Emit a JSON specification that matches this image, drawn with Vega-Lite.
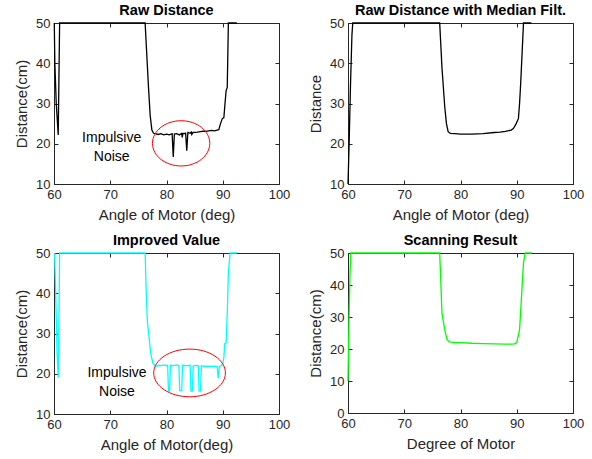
{
  "$schema": "https://vega.github.io/schema/vega-lite/v6.json",
  "padding": {"left": 14, "top": 2, "right": 5, "bottom": 5},
  "datasets": {
    "raw": [
      {"angle": 60.05, "dist": 50}, {"angle": 60.15, "dist": 40}, {"angle": 60.4, "dist": 30}, {"angle": 60.75, "dist": 22.2}, {"angle": 61.0, "dist": 50},
      {"angle": 76.2, "dist": 50}, {"angle": 76.5, "dist": 42}, {"angle": 76.8, "dist": 34}, {"angle": 77.1, "dist": 27}, {"angle": 77.4, "dist": 23.4},
      {"angle": 77.7, "dist": 22.6}, {"angle": 78.0, "dist": 22.5}, {"angle": 78.5, "dist": 22.3}, {"angle": 79.0, "dist": 22.5}, {"angle": 79.5, "dist": 22.2},
      {"angle": 80.0, "dist": 22.4}, {"angle": 80.5, "dist": 22.2}, {"angle": 81.0, "dist": 22.5}, {"angle": 81.2, "dist": 16.7}, {"angle": 81.4, "dist": 22.4},
      {"angle": 81.8, "dist": 22.5}, {"angle": 82.3, "dist": 22.2}, {"angle": 82.7, "dist": 22.6}, {"angle": 82.8, "dist": 21.6}, {"angle": 82.9, "dist": 22.5},
      {"angle": 83.4, "dist": 22.6}, {"angle": 83.6, "dist": 18.3}, {"angle": 83.8, "dist": 22.8}, {"angle": 84.2, "dist": 22.6}, {"angle": 84.4, "dist": 22.9},
      {"angle": 84.5, "dist": 22.3}, {"angle": 84.7, "dist": 22.8}, {"angle": 85.5, "dist": 22.9}, {"angle": 86.0, "dist": 23.0}, {"angle": 86.5, "dist": 23.1},
      {"angle": 87.0, "dist": 23.1}, {"angle": 87.5, "dist": 23.2}, {"angle": 88.0, "dist": 23.3}, {"angle": 88.5, "dist": 23.2}, {"angle": 89.0, "dist": 23.4},
      {"angle": 89.3, "dist": 23.5}, {"angle": 89.6, "dist": 25.0}, {"angle": 89.9, "dist": 26.2}, {"angle": 90.2, "dist": 26.5}, {"angle": 90.4, "dist": 30},
      {"angle": 90.6, "dist": 33.2}, {"angle": 90.8, "dist": 34}, {"angle": 90.9, "dist": 42}, {"angle": 91.0, "dist": 50}, {"angle": 92.5, "dist": 50}
    ],
    "median": [
      {"angle": 60.0, "dist": 10}, {"angle": 60.2, "dist": 20}, {"angle": 60.45, "dist": 35}, {"angle": 60.7, "dist": 47}, {"angle": 60.85, "dist": 50},
      {"angle": 76.3, "dist": 50}, {"angle": 76.7, "dist": 39}, {"angle": 77.2, "dist": 29.2}, {"angle": 77.5, "dist": 25}, {"angle": 77.8, "dist": 23.0},
      {"angle": 78.2, "dist": 22.6}, {"angle": 79, "dist": 22.5}, {"angle": 80, "dist": 22.4}, {"angle": 82, "dist": 22.4}, {"angle": 84, "dist": 22.5},
      {"angle": 86, "dist": 22.8}, {"angle": 87, "dist": 22.9}, {"angle": 88, "dist": 23.1}, {"angle": 89, "dist": 23.4}, {"angle": 89.4, "dist": 23.8},
      {"angle": 89.9, "dist": 25}, {"angle": 90.3, "dist": 26.3}, {"angle": 90.5, "dist": 30}, {"angle": 90.7, "dist": 35}, {"angle": 91.0, "dist": 44},
      {"angle": 91.2, "dist": 50}, {"angle": 92.6, "dist": 50}
    ],
    "improved": [
      {"angle": 60.1, "dist": 50}, {"angle": 60.3, "dist": 40}, {"angle": 60.55, "dist": 25}, {"angle": 60.75, "dist": 19}, {"angle": 60.85, "dist": 30},
      {"angle": 61.0, "dist": 50}, {"angle": 76.2, "dist": 50}, {"angle": 76.4, "dist": 40}, {"angle": 76.6, "dist": 33}, {"angle": 76.9, "dist": 29},
      {"angle": 77.2, "dist": 25}, {"angle": 77.6, "dist": 22.5}, {"angle": 78.0, "dist": 22.0}, {"angle": 78.3, "dist": 21.8}, {"angle": 78.6, "dist": 22.1},
      {"angle": 79.0, "dist": 22.0}, {"angle": 79.5, "dist": 22.2}, {"angle": 80.0, "dist": 22.0}, {"angle": 80.2, "dist": 22.1}, {"angle": 80.35, "dist": 15.7},
      {"angle": 80.55, "dist": 15.7}, {"angle": 80.7, "dist": 22.1}, {"angle": 81.2, "dist": 22.0}, {"angle": 81.8, "dist": 22.2}, {"angle": 82.2, "dist": 22.0},
      {"angle": 82.35, "dist": 15.8}, {"angle": 82.7, "dist": 15.8}, {"angle": 82.85, "dist": 22.1}, {"angle": 83.5, "dist": 22.0}, {"angle": 84.2, "dist": 22.1},
      {"angle": 84.35, "dist": 15.7}, {"angle": 84.6, "dist": 15.7}, {"angle": 84.75, "dist": 22.0}, {"angle": 85.3, "dist": 22.1}, {"angle": 85.65, "dist": 22.0},
      {"angle": 85.8, "dist": 15.7}, {"angle": 86.05, "dist": 15.7}, {"angle": 86.2, "dist": 22.0}, {"angle": 86.8, "dist": 21.8}, {"angle": 87.5, "dist": 21.9},
      {"angle": 88.0, "dist": 21.8}, {"angle": 88.5, "dist": 21.9}, {"angle": 89.0, "dist": 21.8}, {"angle": 89.2, "dist": 18.9}, {"angle": 89.4, "dist": 21.8},
      {"angle": 89.7, "dist": 22.0}, {"angle": 90.0, "dist": 22.5}, {"angle": 90.2, "dist": 24}, {"angle": 90.35, "dist": 27.5}, {"angle": 90.6, "dist": 27.7},
      {"angle": 90.8, "dist": 35}, {"angle": 91.0, "dist": 45}, {"angle": 91.3, "dist": 50}, {"angle": 92.5, "dist": 50}
    ],
    "scan": [
      {"angle": 60.0, "dist": 10}, {"angle": 60.2, "dist": 31}, {"angle": 60.35, "dist": 43}, {"angle": 60.5, "dist": 50}, {"angle": 76.3, "dist": 50},
      {"angle": 76.5, "dist": 41}, {"angle": 76.7, "dist": 31.2}, {"angle": 77.2, "dist": 26}, {"angle": 77.6, "dist": 23}, {"angle": 78.0, "dist": 22.2},
      {"angle": 79, "dist": 22.0}, {"angle": 80, "dist": 22.0}, {"angle": 82, "dist": 21.8}, {"angle": 84, "dist": 21.7}, {"angle": 86, "dist": 21.6},
      {"angle": 88, "dist": 21.5}, {"angle": 89, "dist": 21.5}, {"angle": 89.6, "dist": 21.6}, {"angle": 90.0, "dist": 22.0}, {"angle": 90.5, "dist": 26},
      {"angle": 90.8, "dist": 35}, {"angle": 91.2, "dist": 46.9}, {"angle": 91.5, "dist": 50}, {"angle": 92.7, "dist": 50}
    ],
    "ell1": [{"angle": 82.6, "dist": 20.1}],
    "ell3": [{"angle": 84.1, "dist": 20.2}],
    "txt1": [{"angle": 70.25, "dist": 20.5, "label": "Impulsive"}, {"angle": 70.25, "dist": 15.7, "label": "Noise"}],
    "txt3": [{"angle": 71.2, "dist": 19.3, "label": "Impulsive"}, {"angle": 71.2, "dist": 14.55, "label": "Noise"}]
  },
  "columns": 2,
  "spacing": 69,
  "bounds": "flush",
  "concat": [
    {
      "width": 225, "height": 161,
      "title": "Raw Distance",
      "layer": [
        {"data": {"name": "raw"}, "mark": {"type": "line", "color": "#000000", "strokeWidth": 1.3},
         "encoding": {
           "x": {"field": "angle", "type": "quantitative", "scale": {"domain": [60, 100], "nice": false}, "axis": {"values": [60, 70, 80, 90, 100], "title": "Angle of Motor (deg)"}},
           "y": {"field": "dist", "type": "quantitative", "scale": {"domain": [10, 50], "nice": false}, "axis": {"values": [10, 20, 30, 40, 50], "title": "Distance(cm)"}}}},
        {"data": {"name": "raw"}, "mark": {"type": "line", "opacity": 0},
         "encoding": {
           "x": {"field": "angle", "type": "quantitative", "scale": {"domain": [60, 100], "nice": false}, "axis": {"orient": "top", "values": [60, 70, 80, 90, 100], "labels": false, "domain": false, "title": null}},
           "y": {"field": "dist", "type": "quantitative", "scale": {"domain": [10, 50], "nice": false}, "axis": {"orient": "right", "values": [10, 20, 30, 40, 50], "labels": false, "domain": false, "title": null}}}},
        {"data": {"name": "ell1"}, "mark": {"type": "point", "shape": "M -1 0 A 1 0.79 0 1 1 1 0 A 1 0.79 0 1 1 -1 0 Z", "size": 3283, "filled": false, "stroke": "#ff0000", "strokeWidth": 1, "opacity": 1},
         "encoding": {"x": {"field": "angle", "type": "quantitative", "axis": null}, "y": {"field": "dist", "type": "quantitative", "axis": null}}},
        {"data": {"name": "txt1"}, "mark": {"type": "text", "fontSize": 14, "align": "center", "baseline": "alphabetic", "color": "#000000"},
         "encoding": {"x": {"field": "angle", "type": "quantitative", "axis": null}, "y": {"field": "dist", "type": "quantitative", "axis": null}, "text": {"field": "label"}}}
      ],
      "resolve": {"axis": {"x": "independent", "y": "independent"}}
    },
    {
      "width": 225, "height": 161,
      "title": "Raw Distance with Median Filt.",
      "layer": [
        {"data": {"name": "median"}, "mark": {"type": "line", "color": "#000000", "strokeWidth": 1.3},
         "encoding": {
           "x": {"field": "angle", "type": "quantitative", "scale": {"domain": [60, 100], "nice": false}, "axis": {"values": [60, 70, 80, 90, 100], "title": "Angle of Motor (deg)"}},
           "y": {"field": "dist", "type": "quantitative", "scale": {"domain": [10, 50], "nice": false}, "axis": {"values": [10, 20, 30, 40, 50], "title": "Distance"}}}},
        {"data": {"name": "median"}, "mark": {"type": "line", "opacity": 0},
         "encoding": {
           "x": {"field": "angle", "type": "quantitative", "scale": {"domain": [60, 100], "nice": false}, "axis": {"orient": "top", "values": [60, 70, 80, 90, 100], "labels": false, "domain": false, "title": null}},
           "y": {"field": "dist", "type": "quantitative", "scale": {"domain": [10, 50], "nice": false}, "axis": {"orient": "right", "values": [10, 20, 30, 40, 50], "labels": false, "domain": false, "title": null}}}}
      ],
      "resolve": {"axis": {"x": "independent", "y": "independent"}}
    },
    {
      "width": 225, "height": 161,
      "title": "Improved Value",
      "layer": [
        {"data": {"name": "improved"}, "mark": {"type": "line", "color": "#00ffff", "strokeWidth": 1.3},
         "encoding": {
           "x": {"field": "angle", "type": "quantitative", "scale": {"domain": [60, 100], "nice": false}, "axis": {"values": [60, 70, 80, 90, 100], "title": "Angle of Motor(deg)"}},
           "y": {"field": "dist", "type": "quantitative", "scale": {"domain": [10, 50], "nice": false}, "axis": {"values": [10, 20, 30, 40, 50], "title": "Distance(cm)"}}}},
        {"data": {"name": "improved"}, "mark": {"type": "line", "opacity": 0},
         "encoding": {
           "x": {"field": "angle", "type": "quantitative", "scale": {"domain": [60, 100], "nice": false}, "axis": {"orient": "top", "values": [60, 70, 80, 90, 100], "labels": false, "domain": false, "title": null}},
           "y": {"field": "dist", "type": "quantitative", "scale": {"domain": [10, 50], "nice": false}, "axis": {"orient": "right", "values": [10, 20, 30, 40, 50], "labels": false, "domain": false, "title": null}}}},
        {"data": {"name": "ell3"}, "mark": {"type": "point", "shape": "M -1 0 A 1 0.665 0 1 1 1 0 A 1 0.665 0 1 1 -1 0 Z", "size": 5141, "filled": false, "stroke": "#ff0000", "strokeWidth": 1, "opacity": 1},
         "encoding": {"x": {"field": "angle", "type": "quantitative", "axis": null}, "y": {"field": "dist", "type": "quantitative", "axis": null}}},
        {"data": {"name": "txt3"}, "mark": {"type": "text", "fontSize": 14, "align": "center", "baseline": "alphabetic", "color": "#000000"},
         "encoding": {"x": {"field": "angle", "type": "quantitative", "axis": null}, "y": {"field": "dist", "type": "quantitative", "axis": null}, "text": {"field": "label"}}}
      ],
      "resolve": {"axis": {"x": "independent", "y": "independent"}}
    },
    {
      "width": 225, "height": 160,
      "title": "Scanning Result",
      "layer": [
        {"data": {"name": "scan"}, "mark": {"type": "line", "color": "#00ff00", "strokeWidth": 1.3},
         "encoding": {
           "x": {"field": "angle", "type": "quantitative", "scale": {"domain": [60, 100], "nice": false}, "axis": {"values": [60, 70, 80, 90, 100], "title": "Degree of Motor"}},
           "y": {"field": "dist", "type": "quantitative", "scale": {"domain": [0, 50], "nice": false}, "axis": {"values": [0, 10, 20, 30, 40, 50], "title": "Distance(cm)"}}}},
        {"data": {"name": "scan"}, "mark": {"type": "line", "opacity": 0},
         "encoding": {
           "x": {"field": "angle", "type": "quantitative", "scale": {"domain": [60, 100], "nice": false}, "axis": {"orient": "top", "values": [60, 70, 80, 90, 100], "labels": false, "domain": false, "title": null}},
           "y": {"field": "dist", "type": "quantitative", "scale": {"domain": [0, 50], "nice": false}, "axis": {"orient": "right", "values": [0, 10, 20, 30, 40, 50], "labels": false, "domain": false, "title": null}}}}
      ],
      "resolve": {"axis": {"x": "independent", "y": "independent"}}
    }
  ],
  "config": {
    "font": "Liberation Sans",
    "background": "#ffffff",
    "view": {"stroke": "#262626", "strokeWidth": 1},
    "axis": {"grid": false, "domainColor": "#262626", "tickColor": "#262626", "labelColor": "#262626", "titleColor": "#262626", "labelFontSize": 13, "titleFontSize": 15, "titleFontWeight": "normal", "tickSize": -4, "labelPadding": 8, "labelFlush": false, "labelOverlap": false, "titlePadding": 6},
    "title": {"fontSize": 14.5, "fontWeight": "bold", "color": "#000000", "offset": -1}
  }
}
